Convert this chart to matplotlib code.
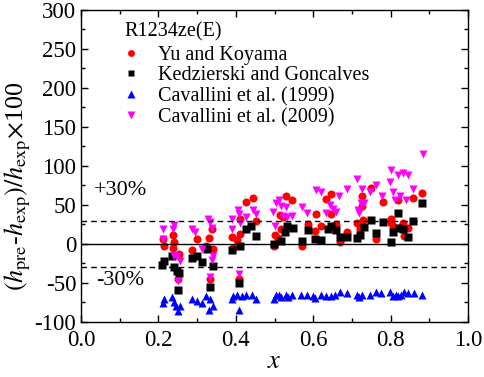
import matplotlib
matplotlib.use("Agg")
import matplotlib.pyplot as plt
from matplotlib.ticker import MultipleLocator

plt.rcParams['font.family'] = ['Liberation Serif', 'DejaVu Serif']
plt.rcParams['mathtext.fontset'] = 'stix'
plt.rcParams['axes.unicode_minus'] = False

# Yu and Koyama
yk_x = [0.213, 0.215, 0.237, 0.239, 0.237, 0.254, 0.251,
        0.287, 0.300, 0.323, 0.331, 0.333, 0.339, 0.340,
        0.391, 0.393, 0.404, 0.412, 0.412, 0.426, 0.445, 0.452, 0.409,
        0.498, 0.501, 0.508, 0.516, 0.514, 0.521, 0.529, 0.546, 0.570,
        0.587, 0.604, 0.608, 0.621, 0.634, 0.647, 0.645, 0.658, 0.669, 0.688,
        0.713, 0.720, 0.725, 0.727, 0.729, 0.749, 0.763,
        0.781, 0.800, 0.802, 0.807, 0.818, 0.828, 0.834, 0.832, 0.845, 0.858, 0.882]
yk_y = [6, -3, 11, 2, -5, -13, -45,
        -8, 7, -2, 8, -45, 19, -6,
        9, -5, 5, 13, 32, 54, 59, 30, -45,
        -2, 12, 8, 19, 37, 34, 62, 57, -3,
        26, 17, 38, 23, 58, 64, 38, 26, 3, 15,
        27, 19, 49, 62, 31, 72, 7,
        54, 32, 27, 23, 57, 22, 10, 27, 21, 59, 66]

# Kedzierski and Goncalves
kg_x = [0.210, 0.215, 0.236, 0.240, 0.247, 0.253, 0.251,
        0.287, 0.299, 0.312, 0.326, 0.333, 0.340,
        0.391, 0.410, 0.409, 0.426, 0.440, 0.452,
        0.498, 0.516, 0.527, 0.531, 0.547, 0.570,
        0.587, 0.604, 0.621, 0.639, 0.645, 0.658, 0.669, 0.688,
        0.712, 0.722, 0.731, 0.749, 0.763,
        0.781, 0.800, 0.805, 0.820, 0.821, 0.832, 0.845, 0.858, 0.882]
kg_y = [-27, -22, -15, -30, -35, -37, -59,
        -18, -16, -23, -7, -55, -28,
        -8, -3, -50, 19, 23, 10,
        0, 4, 15, 23, 20, 4,
        18, 7, 5, 19, 23, 18, 9, 9,
        8, 12, 22, 31, 14,
        28, 2, 16, 40, 21, 19, 9, 30, 52]

# Cavallini et al. (1999)
c99_x = [0.211, 0.214, 0.236, 0.239, 0.246, 0.251, 0.256,
         0.286, 0.299, 0.312, 0.323, 0.331, 0.333, 0.342,
         0.389, 0.393, 0.409, 0.404, 0.415, 0.427, 0.443, 0.452,
         0.498, 0.503, 0.512, 0.518, 0.529, 0.535, 0.546,
         0.568, 0.583, 0.600, 0.604, 0.621, 0.634, 0.645, 0.656, 0.669, 0.686,
         0.712, 0.719, 0.727, 0.746, 0.763, 0.776,
         0.798, 0.805, 0.813, 0.820, 0.828, 0.834, 0.845, 0.860, 0.882]
c99_y = [-76, -71, -68, -75, -80, -86, -79,
         -70, -73, -76, -67, -84, -70, -79,
         -71, -67, -85, -66, -67, -65, -65, -70,
         -70, -65, -66, -68, -66, -68, -65,
         -65, -65, -67, -69, -65, -67, -67, -65, -62, -63,
         -66, -68, -65, -65, -62, -63,
         -62, -67, -65, -67, -66, -62, -63, -63, -66]

# Cavallini et al. (2009)
c09_x = [0.211, 0.213, 0.237, 0.240, 0.239, 0.247, 0.256, 0.251,
         0.286, 0.294, 0.312, 0.329, 0.333, 0.338, 0.342, 0.339, 0.332,
         0.391, 0.391, 0.405, 0.409, 0.411, 0.426, 0.445, 0.453, 0.409,
         0.497, 0.501, 0.505, 0.512, 0.518, 0.522, 0.529, 0.533, 0.546, 0.570,
         0.583, 0.608, 0.621, 0.634, 0.643, 0.650, 0.658, 0.667,
         0.686, 0.712, 0.716, 0.719, 0.723, 0.727, 0.731, 0.746, 0.763,
         0.779, 0.798, 0.802, 0.807, 0.811, 0.820, 0.824, 0.832, 0.839, 0.845, 0.858, 0.884]
c09_y = [6, 19, 19, 24, -15, -15, -22, -47,
         19, 15, -7, 32, 28, 20, -15, -20, -42,
         32, 19, 44, 38, 27, 35, 43, 38, -39,
         41, 23, 53, 57, 49, 36, 47, 35, 36, 47,
         40, 69, 67, 40, 50, 45, 41, 62,
         71, 83, 44, 40, 53, 71, 53, 67, 76,
         62, 79, 95, 67, 57, 89, 62, 91, 57, 89, 71, 115]

fig = plt.figure(figsize=(4.84, 3.77), dpi=100)
ax = fig.add_axes([0.1674, 0.1459, 0.7996, 0.8276])

ms = 5.8
ax.plot(yk_x, yk_y, 'o', color='#ff0000', ms=ms, mec='none', label='Yu and Koyama')
ax.plot(kg_x, kg_y, 's', color='black', ms=ms - 0.6, mec='none', label='Kedzierski and Goncalves')
ax.plot(c99_x, c99_y, '^', color='#0000ff', ms=ms + 0.4, mec='none', label='Cavallini et al. (1999)')
ax.plot(c09_x, c09_y, 'v', color='#ff00ff', ms=ms + 0.4, mec='none', label='Cavallini et al. (2009)')

ax.axhline(0, color='black', lw=1.0)
ax.axhline(30, color='black', lw=1.0, ls=(0, (4, 3)))
ax.axhline(-30, color='black', lw=1.0, ls=(0, (4, 3)))

ax.set_xlim(0, 1.0)
ax.set_ylim(-100, 300)
ax.xaxis.set_major_locator(MultipleLocator(0.2))
ax.xaxis.set_minor_locator(MultipleLocator(0.1))
ax.yaxis.set_major_locator(MultipleLocator(50))
ax.yaxis.set_minor_locator(MultipleLocator(25))
ax.tick_params(which='both', direction='in', top=True, right=True, labelsize=16.5, width=1)
ax.tick_params(axis='x', which='major', pad=6)
ax.tick_params(which='major', length=5)
ax.tick_params(which='minor', length=3)
ax.set_xticklabels([f'{v:.1f}' for v in ax.get_xticks()])
for s in ax.spines.values():
    s.set_linewidth(1.0)

ax.text(0.032, 63, '+30%', fontsize=16)
ax.text(0.04, -52, '-30%', fontsize=16)

ax.set_xlabel(r'$x$', fontsize=19, labelpad=0)
ax.set_ylabel(r'$(h_{\mathrm{pre}}$-$h_{\mathrm{exp}})/h_{\mathrm{exp}}$$\times$100', fontsize=18.8)
ax.yaxis.set_label_coords(-0.125, 0.436)

ax.text(0.111, 272, 'R1234ze(E)', fontsize=14.5, va='center', ha='left')
leg = ax.legend(loc='upper left', bbox_to_anchor=(0.078, 0.925), frameon=False,
                fontsize=14.5, handlelength=0.8, handletextpad=0.9,
                labelspacing=0.08, borderaxespad=0.2, markerscale=0.85)

fig.savefig('out.png', dpi=100)
